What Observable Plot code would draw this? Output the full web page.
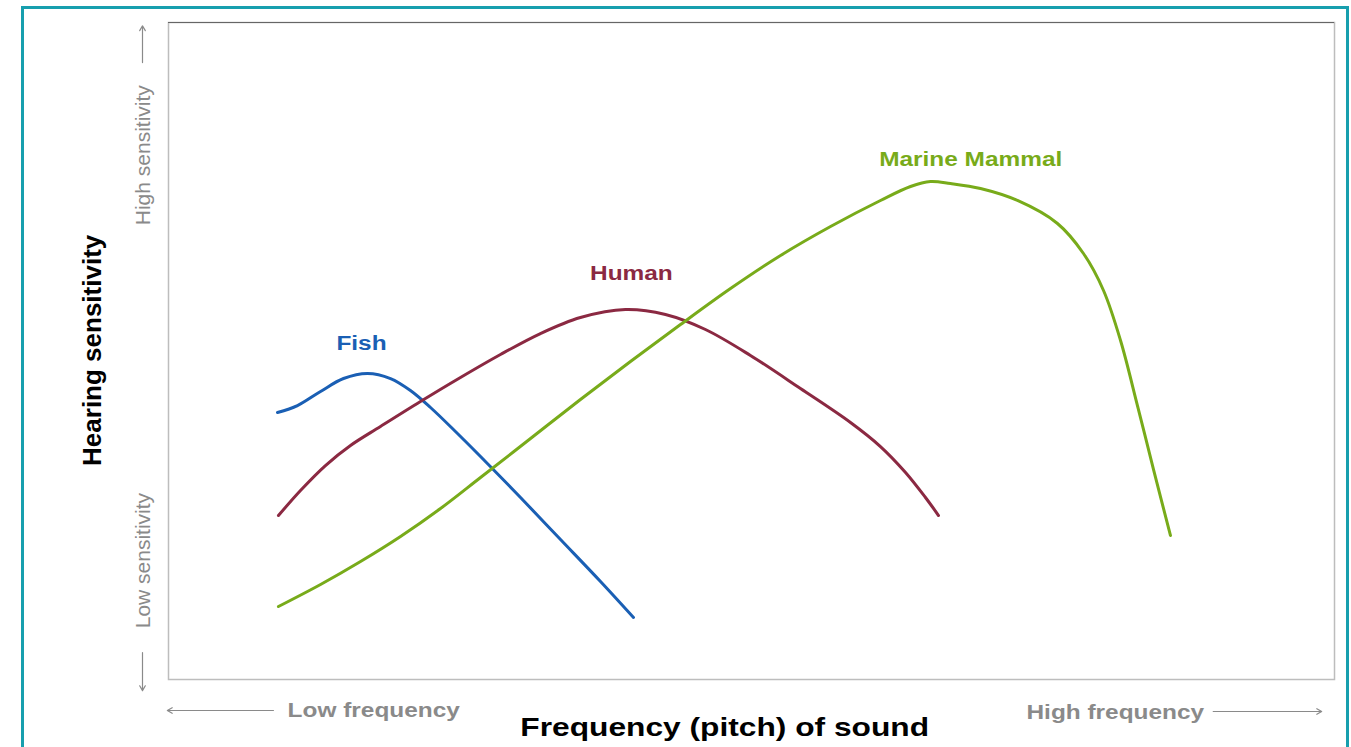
<!DOCTYPE html>
<html>
<head>
<meta charset="utf-8">
<script src="https://cdn.jsdelivr.net/npm/d3@7"></script>
<script src="https://cdn.jsdelivr.net/npm/@observablehq/plot@0.6"></script>
<style>
  html, body { margin: 0; padding: 0; background: #fff; overflow: hidden; }
  #wrap { position: relative; width: 1351px; height: 747px; }
  #border { position: absolute; left: 21px; top: 6px; width: 1328px; height: 800px;
            border: 3px solid #179fae; box-sizing: border-box; pointer-events: none; }
  #wrap svg { display: block; }
</style>
</head>
<body>
<div id="wrap"><div id="border"></div></div>
<script>
// ---- Data (frequency position 0–100, hearing sensitivity 0–100) ----
const fishX   = [9.35, 11.06, 13.04, 15.01, 17.07, 19.04, 20.75, 22.47, 24.61, 26.76, 30.19, 33.62, 37.05, 39.88];
const fishY   = [40.64, 41.70, 43.84, 45.81, 46.58, 45.81, 43.99, 41.40, 37.75, 33.94, 27.70, 21.31, 14.92, 9.44];

const humanX  = [9.43, 11.32, 13.46, 15.61, 18.18, 21.61, 25.04, 28.47, 31.90, 35.33, 39.19, 42.62, 46.05, 49.91, 54.20, 58.49, 61.06, 63.21, 64.92, 66.04];
const humanY  = [24.96, 28.77, 32.57, 35.62, 38.51, 42.31, 45.97, 49.47, 52.66, 55.10, 56.32, 55.56, 53.27, 49.32, 44.29, 39.12, 35.46, 31.51, 27.70, 24.96];

const mammalX = [9.43, 13.04, 16.47, 19.90, 23.33, 26.76, 31.05, 35.33, 39.62, 43.91, 48.20, 52.49, 56.78, 61.06, 63.64, 65.35, 67.07, 69.64, 72.81, 76.24, 78.47, 80.19, 81.65, 83.10, 84.48, 85.93];
const mammalY = [11.11, 14.46, 17.96, 21.77, 26.03, 30.75, 36.68, 42.62, 48.40, 54.03, 59.51, 64.54, 68.95, 72.91, 75.04, 75.80, 75.49, 74.73, 72.91, 69.41, 64.84, 59.21, 51.60, 41.70, 31.96, 21.92];

const seriesNames  = ["Fish", "Human", "Marine Mammal"];
const seriesColors = ["#1a5fb4", "#8b2942", "#78ab1a"];
const labelX = [16.55, 39.7, 68.8];
const labelY = [51.1, 61.8, 79.1];

const xTickLabels = ["Low frequency", "High frequency"];
const yTickLabels = ["Low sensitivity", "High sensitivity"];
const xTitle = "Frequency (pitch) of sound";
const yTitle = "Hearing sensitivity";

// ---- Build tables ----
const seriesXs = [fishX, humanX, mammalX];
const seriesYs = [fishY, humanY, mammalY];
const lineData = seriesNames.flatMap((name, i) =>
  seriesXs[i].map((x, j) => ({series: name, x, y: seriesYs[i][j]})));
const labelData = seriesNames.map((name, i) => ({series: name, x: labelX[i], y: labelY[i]}));

const gray = "#8a8a8a";
const font = "Liberation Sans, Arial, Helvetica, sans-serif";

const chart = Plot.plot({
  width: 1351,
  height: 747,
  marginLeft: 168,
  marginRight: 17,
  marginTop: 22,
  marginBottom: 68,
  style: {background: "transparent", fontFamily: font},
  x: {domain: [0, 100], axis: null},
  y: {domain: [0, 100], axis: null},
  color: {domain: seriesNames, range: seriesColors},
  marks: [
    Plot.frame({stroke: "#bdbdbd", strokeWidth: 1.5}),
    Plot.ruleY([100], {stroke: "#666", strokeWidth: 1.2}),
    Plot.line(lineData, {x: "x", y: "y", z: "series", stroke: "series", strokeWidth: 3, curve: "catmull-rom"}),
    Plot.text(labelData, {x: "x", y: "y", text: "series", fill: "series", fontSize: 20, fontWeight: "bold"}),
    // y-axis descriptors
    Plot.text([yTickLabels[1]], {x: () => -2.14, y: () => 79.8, text: d => d, rotate: -90, fill: gray, fontSize: 21}),
    Plot.text([yTickLabels[0]], {x: () => -2.14, y: () => 18.1, text: d => d, rotate: -90, fill: gray, fontSize: 21}),
    Plot.arrow([0], {x1: () => -2.23, y1: () => 93.9, x2: () => -2.23, y2: () => 99.5, stroke: gray, strokeWidth: 1.2, headLength: 7}),
    Plot.arrow([0], {x1: () => -2.23, y1: () => 4.1, x2: () => -2.23, y2: () => -1.7, stroke: gray, strokeWidth: 1.2, headLength: 7}),
    Plot.text([yTitle], {x: () => -6.52, y: () => 50.1, text: d => d, rotate: -90, fill: "#000", fontSize: 26, fontWeight: "bold"}),
    // x-axis descriptors
    Plot.text([xTickLabels[0]], {x: () => 17.6, y: () => -4.75, text: d => d, fill: gray, fontSize: 20, fontWeight: "bold"}),
    Plot.text([xTickLabels[1]], {x: () => 81.2, y: () => -5.0, text: d => d, fill: gray, fontSize: 20, fontWeight: "bold"}),
    Plot.arrow([0], {x1: () => 9.0, y1: () => -4.72, x2: () => -0.1, y2: () => -4.72, stroke: gray, strokeWidth: 1.2, headLength: 7}),
    Plot.arrow([0], {x1: () => 89.6, y1: () => -4.87, x2: () => 98.9, y2: () => -4.87, stroke: gray, strokeWidth: 1.2, headLength: 7}),
    Plot.text([xTitle], {x: () => 47.7, y: () => -7.3, text: d => d, fill: "#000", fontSize: 26, fontWeight: "bold"})
  ]
});

const wrap = document.getElementById("wrap");
wrap.insertBefore(chart, wrap.firstChild);

// The reference's horizontal text is drawn slightly widened; stretch horizontal labels to match.
chart.querySelectorAll("text").forEach(t => {
  let el = t, rotated = false;
  while (el && el !== chart) {
    const tr = el.getAttribute && el.getAttribute("transform");
    if (tr && tr.includes("rotate")) rotated = true;
    el = el.parentNode;
  }
  if (!rotated) {
    const w = t.getComputedTextLength();
    if (w > 0) {
      t.setAttribute("textLength", (w * 1.22).toFixed(1));
      t.setAttribute("lengthAdjust", "spacingAndGlyphs");
    }
  }
});
</script>
</body>
</html>
